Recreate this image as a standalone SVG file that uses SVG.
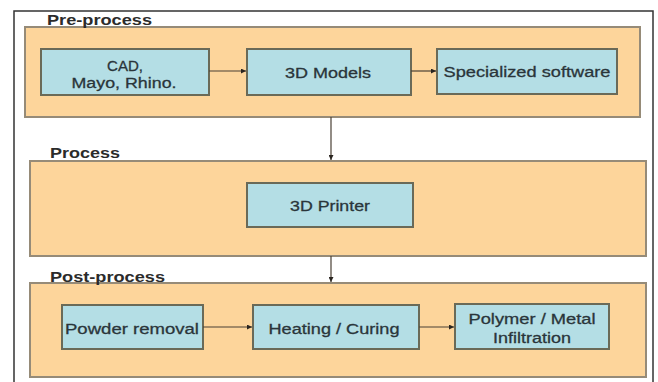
<svg xmlns="http://www.w3.org/2000/svg" width="658" height="382" viewBox="0 0 658 382">
<defs>
<style>
.panel{fill:#FDD59B;stroke:#968B78;stroke-width:2}
.box{fill:#B4DEE5;stroke:#6A6A58;stroke-width:2}
.t{font-family:"Liberation Sans",Arial,sans-serif;font-size:15.5px;fill:#2A353A;stroke:#2A353A;stroke-width:0.3;text-anchor:middle}
.lbl{font-family:"Liberation Sans",Arial,sans-serif;font-size:15px;font-weight:bold;fill:#2B2B2B}
.c{stroke:#4A4035;stroke-width:1.2;fill:none;marker-end:url(#ah)}
</style>
<marker id="ah" viewBox="0 0 6 6" refX="6" refY="3" markerWidth="5" markerHeight="5" orient="auto" markerUnits="userSpaceOnUse">
<path d="M0,0 L6,3 L0,6 z" fill="#2A2520"/>
</marker>
</defs>
<rect width="658" height="382" fill="#FFFFFF"/>
<rect x="14" y="11" width="639" height="376" fill="none" stroke="#333333" stroke-width="1.5"/>

<g id="pre-process">
<rect class="panel" x="25" y="27" width="615" height="90"/>
<text class="lbl" x="47" y="25" textLength="105" lengthAdjust="spacingAndGlyphs">Pre-process</text>
</g>
<g id="process">
<rect class="panel" x="30" y="161" width="616" height="95"/>
<text class="lbl" x="50" y="158" textLength="70" lengthAdjust="spacingAndGlyphs">Process</text>
</g>
<g id="post-process">
<rect class="panel" x="30" y="283" width="616" height="94"/>
<text class="lbl" x="50" y="282" textLength="115" lengthAdjust="spacingAndGlyphs">Post-process</text>
</g>

<g id="cad">
<rect class="box" x="41" y="49" width="168" height="46"/>
<text class="t" x="125" y="71" textLength="36" lengthAdjust="spacingAndGlyphs">CAD,</text>
<text class="t" x="124" y="88" textLength="105" lengthAdjust="spacingAndGlyphs">Mayo, Rhino.</text>
</g>
<g id="models">
<rect class="box" x="247" y="49" width="164" height="46"/>
<text class="t" x="328" y="78" textLength="86" lengthAdjust="spacingAndGlyphs">3D Models</text>
</g>
<g id="software">
<rect class="box" x="437" y="49" width="180" height="45"/>
<text class="t" x="527" y="77" textLength="167" lengthAdjust="spacingAndGlyphs">Specialized software</text>
</g>
<g id="printer">
<rect class="box" x="247" y="183" width="166" height="44"/>
<text class="t" x="330" y="211" textLength="80" lengthAdjust="spacingAndGlyphs">3D Printer</text>
</g>
<g id="powder">
<rect class="box" x="62" y="305" width="141" height="44"/>
<text class="t" x="132" y="334" textLength="134" lengthAdjust="spacingAndGlyphs">Powder removal</text>
</g>
<g id="heating">
<rect class="box" x="253" y="305" width="166" height="44"/>
<text class="t" x="334" y="334" textLength="131" lengthAdjust="spacingAndGlyphs">Heating / Curing</text>
</g>
<g id="infiltration">
<rect class="box" x="455" y="304" width="154" height="45"/>
<text class="t" x="532" y="324" textLength="127" lengthAdjust="spacingAndGlyphs">Polymer / Metal</text>
<text class="t" x="532" y="343" textLength="78" lengthAdjust="spacingAndGlyphs">Infiltration</text>
</g>

<g id="connectors">
<line class="c" x1="209" y1="71" x2="246" y2="71"/>
<line class="c" x1="411" y1="71" x2="436" y2="71"/>
<line class="c" x1="331" y1="117" x2="331" y2="160"/>
<line class="c" x1="331" y1="256" x2="331" y2="282"/>
<line class="c" x1="203" y1="327" x2="252" y2="327"/>
<line class="c" x1="419" y1="327" x2="454" y2="327"/>
</g>
</svg>
